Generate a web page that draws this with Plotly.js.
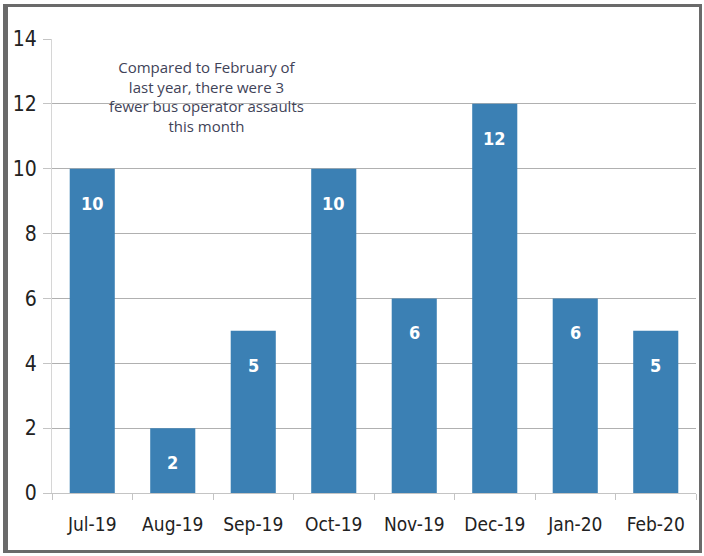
<!DOCTYPE html>
<html><head><meta charset="utf-8">
<script src="https://cdn.plot.ly/plotly-3.0.1.min.js"></script>
<style>
html,body{margin:0;padding:0;background:#fff;}
#frame{position:absolute;left:3px;top:4px;width:699px;height:549px;box-sizing:border-box;border:3px solid #6a6a6a;border-left-width:5px;}
#chart{position:absolute;left:0;top:0;width:704px;height:556px;}
</style></head>
<body>
<div id="chart"></div>
<div id="frame"></div>
<script>
const months = ["Jul-19","Aug-19","Sep-19","Oct-19","Nov-19","Dec-19","Jan-20","Feb-20"];
const assaults = [10, 2, 5, 10, 6, 12, 6, 5];
const yTicks = [0, 2, 4, 6, 8, 10, 12, 14];
const note = "Compared to February of<br>last year, there were 3<br>fewer bus operator assaults<br>this month";

const font = "'Liberation Sans Narrow', 'DejaVu Sans Condensed', sans-serif";
const barColor = "#3b80b4";

const labelAnns = months.map((m, i) => ({
  x: m, y: assaults[i], xref: 'x', yref: 'y',
  text: '<b>' + assaults[i] + '</b>', showarrow: false,
  yanchor: 'top', yshift: -22,
  font: {family: font, size: 18, color: '#ffffff'}
}));

const data = [{
  type: 'bar', x: months, y: assaults,
  marker: {color: barColor, line: {width: 0}},
  width: 0.56, hoverinfo: 'none'
}];

const layout = {
  width: 704, height: 556,
  margin: {l: 52, r: 8, t: 39, b: 63},
  paper_bgcolor: '#ffffff', plot_bgcolor: '#ffffff',
  showlegend: false,
  xaxis: {
    type: 'category', tickson: 'boundaries', ticks: 'outside', ticklen: 6,
    tickcolor: '#c4c4c4', showline: true, linecolor: '#c4c4c4', linewidth: 1,
    showgrid: false, tickfont: {family: font, size: 19, color: '#222'},
    ticklabelstandoff: 14
  },
  yaxis: {
    range: [0, 14], tickvals: yTicks, ticktext: yTicks.map(String),
    showgrid: true, gridcolor: '#b0b0b0', gridwidth: 1,
    showline: true, linecolor: '#d6d6d6', zeroline: false,
    ticks: 'outside', ticklen: 8, tickcolor: '#c4c4c4',
    tickfont: {family: font, size: 21, color: '#222'},
    ticklabelstandoff: 2
  },
  annotations: labelAnns.concat([{
    xref: 'paper', yref: 'y', x: 0.24, y: 13.5, xanchor: 'center', yanchor: 'top',
    text: note, showarrow: false, align: 'center',
    font: {family: "'Open Sans', 'Noto Sans', sans-serif", size: 15, color: '#3f4358'}
  }])
};

Plotly.newPlot('chart', data, layout, {staticPlot: true});
</script>
</body></html>
